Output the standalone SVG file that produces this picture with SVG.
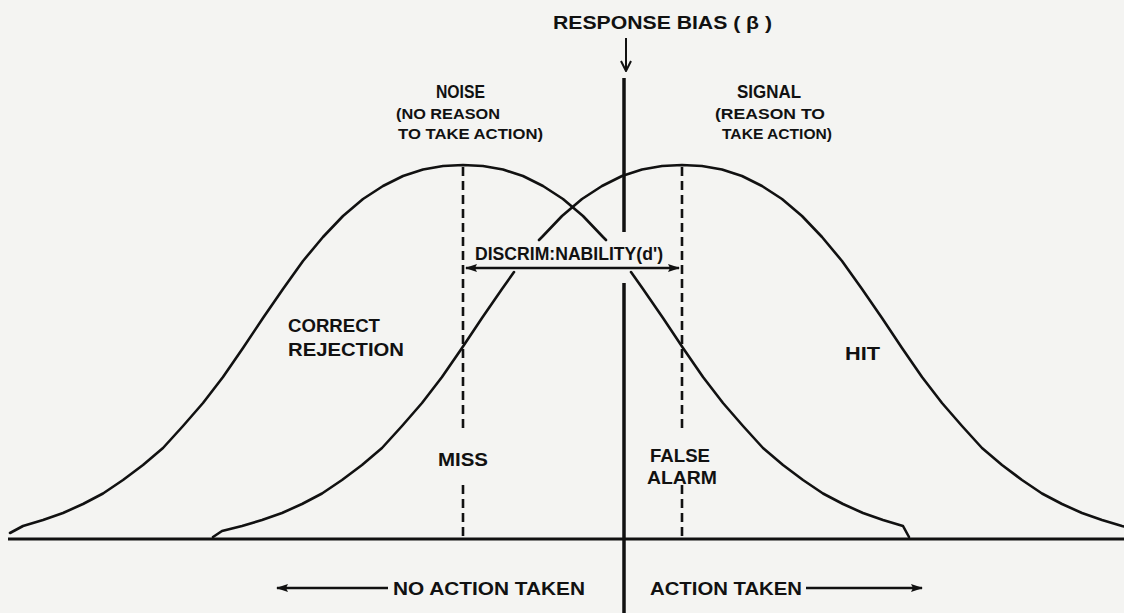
<svg xmlns="http://www.w3.org/2000/svg" width="1124" height="613" viewBox="0 0 1124 613">
<defs>
<style>
.t{font-family:"Liberation Sans",Arial,sans-serif;font-weight:bold;fill:#111}
.c{fill:none;stroke:#111;stroke-width:2.6;stroke-linejoin:round;stroke-linecap:round}
.d{fill:none;stroke:#111;stroke-width:2.6;stroke-dasharray:9 5}
.s{fill:none;stroke:#111;stroke-width:3}
</style>
<marker id="fa" viewBox="0 0 12 10" refX="11" refY="5" markerWidth="12" markerHeight="10" markerUnits="userSpaceOnUse" orient="auto-start-reverse">
<path d="M0,1 L12,5 L0,9 L2,5 Z" fill="#111"/>
</marker>
<marker id="va" viewBox="0 0 12 12" refX="11" refY="6" markerWidth="12" markerHeight="12" markerUnits="userSpaceOnUse" orient="auto">
<path d="M1,1 L11,6 L1,11" fill="none" stroke="#111" stroke-width="2"/>
</marker>
</defs>
<rect width="1124" height="613" fill="#f4f4f2"/>

<g id="curves">
<polyline id="noise-left" class="c" points="10,533 23,526 43,520 63,513 83,504 103,493.5 123,480 143,465 163,448 183,426 203,403 223,377 243,348 263,318 283,289 303,261 323,237 343,216 363,199 383,186 403,176 423,169.5 443,166 463,165 483,166 503,169.5 523,176 543,186 563,199 583,216 603,237 606,240"/>
<polyline id="noise-right" class="c" points="631,272 643,289 663,318 683,348 703,377 723,403 743,426 763,448 783,465 803,480 823,493.5 843,504 863,513 883,520 903,526 909,537"/>
<polyline id="signal-top" class="c" points="539,240 542,237 562,216 582,199 602,186 622,176 642,169.5 662,166 682,165 702,166 722,169.5 742,176 762,186 782,199 802,216 822,237 842,261 862,289 882,318 902,348 922,377 942,403 962,426 982,448 1002,465 1022,480 1042,493.5 1062,504 1082,513 1102,520 1122,526 1124,526.5"/>
<polyline id="signal-left" class="c" points="514,272 502,289 482,318 462,348 442,377 422,403 402,426 382,448 362,465 342,480 322,493.5 302,504 282,513 262,520 242,526 222,531 213,537"/>
</g>

<g id="connectors">
<line id="baseline" class="s" x1="8" y1="539" x2="1124" y2="539"/>
<line id="criterion-top" x1="624" y1="78" x2="624" y2="232" stroke="#111" stroke-width="3.5"/>
<line id="criterion-bottom" x1="624" y1="283" x2="624" y2="613" stroke="#111" stroke-width="3.5"/>
<line id="bias-arrow" x1="626" y1="38" x2="626" y2="71" stroke="#111" stroke-width="2" marker-end="url(#va)"/>
<line id="noise-mean-a" class="d" x1="463" y1="167" x2="463" y2="432"/>
<line id="noise-mean-b" class="d" x1="463" y1="485" x2="463" y2="539"/>
<line id="signal-mean-a" class="d" x1="682" y1="167" x2="682" y2="433"/>
<line id="signal-mean-b" class="d" x1="682" y1="485" x2="682" y2="539"/>
<line id="dprime-arrow" x1="466" y1="268" x2="679" y2="268" stroke="#111" stroke-width="2.6" marker-start="url(#fa)" marker-end="url(#fa)"/>
<line id="no-action-arrow" x1="388" y1="588" x2="277" y2="588" stroke="#111" stroke-width="2.6" marker-end="url(#fa)"/>
<line id="action-arrow" x1="806" y1="588" x2="922" y2="588" stroke="#111" stroke-width="2.6" marker-end="url(#fa)"/>
</g>

<g id="response-bias"><text class="t" x="553" y="29" font-size="18" textLength="219" lengthAdjust="spacingAndGlyphs">RESPONSE BIAS ( β )</text></g>
<g id="noise-label">
<text class="t" x="436" y="98" font-size="18" textLength="49" lengthAdjust="spacingAndGlyphs">NOISE</text>
<text class="t" x="396" y="119" font-size="15" textLength="104" lengthAdjust="spacingAndGlyphs">(NO REASON</text>
<text class="t" x="398" y="139" font-size="15" textLength="145" lengthAdjust="spacingAndGlyphs">TO TAKE ACTION)</text>
</g>
<g id="signal-label">
<text class="t" x="737" y="98" font-size="18" textLength="64" lengthAdjust="spacingAndGlyphs">SIGNAL</text>
<text class="t" x="715" y="119" font-size="15" textLength="110" lengthAdjust="spacingAndGlyphs">(REASON TO</text>
<text class="t" x="722" y="139" font-size="15" textLength="110" lengthAdjust="spacingAndGlyphs">TAKE ACTION)</text>
</g>
<g id="discriminability"><text class="t" x="475" y="260" font-size="18" textLength="188" lengthAdjust="spacingAndGlyphs">DISCRIM:NABILITY(d')</text></g>
<g id="correct-rejection">
<text class="t" x="288" y="332" font-size="19" textLength="92" lengthAdjust="spacingAndGlyphs">CORRECT</text>
<text class="t" x="288" y="356" font-size="19" textLength="116" lengthAdjust="spacingAndGlyphs">REJECTION</text>
</g>
<g id="hit"><text class="t" x="845" y="360" font-size="19" textLength="35" lengthAdjust="spacingAndGlyphs">HIT</text></g>
<g id="miss"><text class="t" x="438" y="466" font-size="19" textLength="50" lengthAdjust="spacingAndGlyphs">MISS</text></g>
<g id="false-alarm">
<text class="t" x="650" y="462" font-size="19" textLength="60" lengthAdjust="spacingAndGlyphs">FALSE</text>
<text class="t" x="647" y="484" font-size="19" textLength="70" lengthAdjust="spacingAndGlyphs">ALARM</text>
</g>
<g id="no-action"><text class="t" x="393" y="595" font-size="19" textLength="192" lengthAdjust="spacingAndGlyphs">NO ACTION TAKEN</text></g>
<g id="action"><text class="t" x="650" y="595" font-size="19" textLength="152" lengthAdjust="spacingAndGlyphs">ACTION TAKEN</text></g>
</svg>
